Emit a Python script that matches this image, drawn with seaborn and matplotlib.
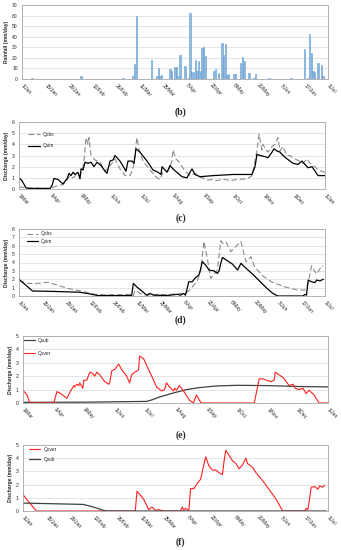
import numpy as np
import pandas as pd
import matplotlib
matplotlib.use('Agg')
import matplotlib.pyplot as plt
import seaborn as sns

# ---------------- data ----------------
# (b) daily rainfall, day number counted from 1 Jan 2016
rain_day = [6, 35, 60, 66, 67, 68, 77, 80, 81, 82, 83, 88, 89, 91, 92, 93, 94, 97, 99,
            100, 101, 102, 103, 104, 105, 106, 107, 108, 109, 114, 115, 117, 119, 120,
            121, 122, 123, 126, 127, 130, 131, 132, 135, 138, 139, 147, 160, 168, 170,
            171, 172, 173, 174, 176, 178, 179]
rain_mm = [1, 2.5, 1, 3, 14, 60, 18, 3, 10.5, 3, 3.5, 9.5, 7.5, 11, 11.5, 3, 23, 12.5, 1,
           62.5, 7, 7, 18, 7.5, 17, 7.5, 29.5, 30.5, 22, 8, 9, 5.5, 34, 23,
           33, 3.5, 4.5, 4.5, 4.5, 15, 20.5, 17, 5.5, 1, 5, 0.5, 1, 28, 1,
           43, 25, 7.5, 7, 15, 13, 3]

# (c) calibration, day number counted from 1 Mar 2015
c_obs_day = [0, 8, 31, 34, 39, 44, 48, 51, 54, 58, 61, 64, 65, 67, 69, 70, 72, 76, 81, 86,
             89, 93, 96, 101, 106, 111, 114, 116, 117, 118, 120, 124, 131, 138, 141, 144,
             149, 153, 154, 157, 161, 166, 171, 176, 181, 188, 194, 198, 204, 211, 218,
             228, 233, 236, 238, 240, 243, 244, 247, 249, 253, 256, 259, 261, 264, 268,
             271, 274, 278, 281, 284, 288, 291, 296, 299, 306]
c_obs = [0.2, 0.1, 0.05, 0.15, 0.3, 0.4, 0.8, 1.2, 1.0, 1.3, 1.2, 2.0, 2.5, 4.6, 4.0, 4.6,
         3.0, 2.6, 2.4, 1.6, 1.9, 2.3, 2.7, 1.8, 1.2, 1.2, 1.8, 3.0, 4.0, 4.6, 3.5, 2.5,
         1.7, 1.0, 0.85, 1.5, 1.6, 2.5, 3.5, 2.7, 2.3, 1.6, 1.2, 1.4, 1.1, 0.8, 0.85,
         0.75, 0.9, 0.75, 0.85, 0.9, 1.2, 2.5, 3.5, 4.9, 3.5, 4.0, 3.5, 3.3, 3.8, 4.0,
         4.6, 3.4, 3.8, 3.0, 3.0, 2.8, 2.6, 2.5, 2.3, 2.7, 2.3, 2.0, 1.7, 1.5]
c_sim_day = [0, 3, 7, 10, 31, 33, 35, 39, 44, 46, 48, 50, 52, 54, 56, 59, 61, 62, 64, 66,
             69, 72, 75, 78, 82, 86, 88, 91, 94, 96, 101, 107, 109, 113, 115, 117, 121,
             128, 134, 139, 142, 143, 146, 148, 151, 154, 159, 163, 168, 171, 173, 176,
             181, 194, 214, 233, 236, 238, 241, 246, 249, 253, 255, 258, 261, 264, 268,
             271, 274, 279, 283, 286, 289, 293, 296, 299, 306]
c_sim = [1.0, 0.75, 0.1, 0.05, 0.05, 0.3, 0.95, 0.85, 0.45, 0.7, 0.9, 1.4, 1.2, 1.5, 1.3,
         1.5, 0.9, 1.8, 1.7, 2.4, 2.3, 2.4, 2.0, 2.4, 2.1, 1.6, 1.4, 2.5, 2.6, 3.0, 2.5,
         1.6, 2.5, 2.5, 2.3, 3.6, 3.3, 2.5, 1.7, 1.5, 1.3, 2.0, 1.7, 1.5, 2.1, 1.8, 1.4,
         1.1, 1.0, 1.5, 1.8, 1.3, 1.1, 1.2, 1.3, 1.3, 2.0, 3.1, 3.0, 2.9, 2.8, 3.3, 3.6,
         3.4, 3.3, 3.0, 2.7, 2.5, 2.3, 2.2, 2.5, 2.2, 1.9, 2.0, 1.6, 1.2, 1.2]

# (d) validation, day number counted from 1 Jan 2016
d_obs_day = [0, 5, 11, 17, 23, 29, 37, 45, 50, 58, 67, 68, 69, 72, 76, 82, 88, 96, 99,
             102, 106, 108, 110, 112, 114, 118, 120, 121, 123, 126, 129, 132, 135, 138,
             140, 145, 150, 158, 165, 170, 172, 174, 177, 180, 181]
d_obs = [1.85, 1.5, 1.5, 1.65, 1.3, 0.9, 0.6, 0.2, 0.15, 0.15, 0.2, 0.05, 0.7, 0.3, 0.1,
         0.2, 0.15, 0.3, 0.3, 0.8, 1.8, 3.0, 6.5, 4.5, 2.1, 3.1, 6.6, 6.3, 6.5, 5.3, 5.9,
         6.5, 4.1, 4.7, 3.5, 2.4, 1.7, 1.1, 0.75, 0.7, 1.5, 3.6, 2.6, 3.6, 3.6]
d_sim_day = [0, 8, 20, 36, 42, 47, 50, 67, 68, 70, 76, 78, 80, 88, 94, 96, 98, 99, 101,
             103, 105, 107, 108, 109, 111, 113, 116, 118, 119, 120, 121, 124, 127, 130,
             132, 134, 139, 143, 147, 151, 154, 169, 170, 171, 172, 174, 176, 177, 179, 181]
d_sim = [2.0, 0.6, 0.55, 0.45, 0.25, 0.05, 0.05, 0.05, 1.5, 1.1, 0.1, 0.3, 0.1, 0.05,
         0.2, 0.1, 0.3, 0.1, 1.7, 1.7, 2.2, 2.5, 3.2, 4.1, 3.7, 3.1, 3.0, 2.7, 3.0, 3.9,
         4.6, 4.2, 3.8, 3.1, 3.9, 3.5, 2.6, 1.8, 1.0, 0.3, 0.0, 0.0, 0.2, 0.1, 1.9, 1.7,
         1.6, 1.9, 1.8, 2.0]

# (e) flow components, day number counted from 1 Mar 2015
e_sub_day = [0, 60, 124, 130, 137, 151, 164, 177, 194, 214, 244, 277, 306]
e_sub = [0.05, 0.06, 0.12, 0.25, 0.45, 0.75, 1.0, 1.15, 1.27, 1.32, 1.3, 1.23, 1.2]
e_over_day = [0, 4, 7, 31, 32, 34, 37, 44, 47, 51, 52, 54, 56, 57, 60, 61, 64, 67, 70,
              72, 74, 77, 82, 86, 87, 89, 92, 96, 99, 104, 107, 109, 112, 115, 116, 117,
              121, 126, 131, 134, 139, 142, 144, 147, 151, 152, 154, 157, 162, 167, 171,
              174, 177, 179, 232, 237, 241, 244, 249, 252, 253, 257, 261, 264, 267, 271,
              273, 277, 281, 284, 287, 292, 297, 306]
e_over = [0.95, 0.6, 0.0, 0.0, 0.3, 0.85, 0.75, 0.35, 0.8, 1.3, 1.2, 1.4, 1.3, 1.5, 1.1,
          1.7, 1.7, 2.3, 2.2, 2.0, 2.3, 2.1, 1.6, 1.4, 1.5, 2.4, 2.5, 2.9, 2.5, 2.0, 1.5,
          2.1, 2.3, 2.4, 2.5, 3.5, 3.3, 2.5, 1.7, 1.2, 0.9, 1.0, 1.5, 1.2, 0.9, 1.1, 0.95,
          1.3, 0.8, 0.2, 0.0, 0.6, 0.2, 0.0, 0.0, 1.8, 1.8, 1.7, 1.6, 1.7, 2.3, 2.1, 1.9,
          1.6, 1.3, 1.4, 1.1, 1.0, 1.1, 0.7, 0.95, 0.6, 0.0, 0.0]

# (f) flow components, day number counted from 1 Jan 2016
f_over_day = [0, 3, 8, 67, 68, 72, 75, 77, 79, 81, 84, 94, 95, 96, 97, 99, 100, 102, 104,
              106, 107, 109, 111, 113, 115, 117, 119, 120, 121, 123, 125, 127, 129, 131,
              133, 134, 137, 139, 143, 147, 151, 155, 168, 169, 170, 172, 174, 176, 177,
              179, 180]
f_over = [1.25, 0.75, 0.0, 0.0, 1.5, 0.9, 0.1, 0.3, 0.05, 0.1, 0.0, 0.0, 0.3, 0.05, 0.2,
          0.05, 1.7, 1.7, 2.1, 2.4, 3.0, 4.1, 3.4, 3.1, 3.1, 2.9, 2.75, 3.8, 4.6, 4.2,
          3.8, 3.6, 3.2, 3.5, 4.0, 3.6, 3.3, 2.9, 2.3, 1.6, 0.9, 0.0, 0.0, 0.2, 0.1, 1.8,
          1.85, 1.65, 1.9, 1.8, 1.95]
f_sub_day = [0, 36, 42, 48, 50, 181]
f_sub = [0.6, 0.5, 0.3, 0.05, 0.0, 0.0]

# ---------------- styling ----------------
sns.set_style('white')
plt.rcParams['font.family'] = ['Liberation Sans', 'DejaVu Sans']

GRID = '#d9d9d9'
FRAME = '#a6a6a6'
TICK_FS = 3.6


def style_axes(ax, start, monthly, ymax, ylabel):
    start = pd.Timestamp(start)
    if monthly:
        tdates = pd.date_range(start, periods=11, freq='MS')
    else:
        tdates = pd.date_range(start, periods=14, freq='14D')
    tpos = (tdates - start).days
    ax.set_xlim(tpos[0], tpos[-1])
    ax.set_xticks(tpos)
    ax.set_xticklabels(['%d/%s' % (d.day, d.strftime('%b')) for d in tdates],
                       rotation=-45, ha='left', va='center', rotation_mode='anchor')
    ax.set_ylim(0, ymax)
    ax.set_yticks(np.arange(0, ymax + 0.01, ymax / (7 if ymax == 70 else ymax)))
    ax.yaxis.grid(True, color=GRID, lw=0.5)
    ax.set_axisbelow(True)
    for s in ax.spines.values():
        s.set_color(FRAME)
        s.set_linewidth(0.6)
    ax.tick_params(axis='both', labelsize=TICK_FS, length=1.5, width=0.4,
                   color=FRAME, pad=1.5, direction='out')
    ax.tick_params(axis='x', pad=2.5)
    ax.set_xlabel('')
    ax.set_ylabel(ylabel, fontsize=3.6, fontweight='bold', labelpad=2)


def panel_label(y, text):
    fig.text(0.53, y, text, ha='center', va='center', fontsize=7,
             fontweight='bold', family='Liberation Serif')


def legend(ax, order, x, y, spacing):
    h, l = ax.get_legend_handles_labels()
    d = dict(zip(l, h))
    ax.legend([d[k] for k in order], order, loc='upper left', bbox_to_anchor=(x, y),
              frameon=False, fontsize=3.4, handlelength=2.4, handletextpad=0.6,
              labelspacing=spacing, borderpad=0, borderaxespad=0)


fig = plt.figure(figsize=(3.41, 5.5), dpi=100)

# (b) rainfall
ax_b = fig.add_axes([22 / 341, 1 - 79 / 550, 306 / 341, 74 / 550])
sns.barplot(x=rain_day, y=rain_mm, native_scale=True, width=0.8, color='#8db8e2',
            edgecolor='#5b9bd5', linewidth=0.4, ax=ax_b)
style_axes(ax_b, '2016-01-01', False, 70, 'Rainfall (mm/day)')
panel_label(1 - 112 / 550, '(b)')

dash = (0, (5, 2.5))

# (c) calibration
ax_c = fig.add_axes([19 / 341, 1 - 189 / 550, 306 / 341, 67 / 550])
sns.lineplot(x=c_obs_day, y=c_obs, color='#8c8c8c', lw=0.8, linestyle=dash,
             label='Qobs', estimator=None, ax=ax_c)
sns.lineplot(x=c_sim_day, y=c_sim, color='black', lw=0.9, label='Qsim',
             estimator=None, ax=ax_c)
style_axes(ax_c, '2015-03-01', True, 6, 'Discharge (mm/day)')
legend(ax_c, ['Qobs', 'Qsim'], 0.03, 0.85, 1.3)
panel_label(1 - 218 / 550, '(c)')

# (d) validation
ax_d = fig.add_axes([19 / 341, 1 - 296 / 550, 306 / 341, 67 / 550])
sns.lineplot(x=d_obs_day, y=d_obs, color='#8c8c8c', lw=0.8, linestyle=dash,
             label='Qobs', estimator=None, ax=ax_d)
sns.lineplot(x=d_sim_day, y=d_sim, color='black', lw=0.9, label='Qsim',
             estimator=None, ax=ax_d)
style_axes(ax_d, '2016-01-01', False, 8, 'Discharge (mm/day)')
legend(ax_d, ['Qobs', 'Qsim'], 0.026, 0.965, 0.5)
panel_label(1 - 320 / 550, '(d)')

# (e) components, calibration period
ax_e = fig.add_axes([23 / 341, 1 - 403 / 550, 305 / 341, 67 / 550])
sns.lineplot(x=e_sub_day, y=e_sub, color='#404040', lw=0.9, label='Qsub',
             estimator=None, ax=ax_e)
sns.lineplot(x=e_over_day, y=e_over, color='#ff2020', lw=0.8, label='Qover',
             estimator=None, ax=ax_e)
style_axes(ax_e, '2015-03-01', True, 5, 'Discharge (mm/day)')
legend(ax_e, ['Qsub', 'Qover'], 0.003, 0.97, 1.7)
panel_label(1 - 435 / 550, '(e)')

# (f) components, validation period
ax_f = fig.add_axes([23 / 341, 1 - 511 / 550, 305 / 341, 66 / 550])
sns.lineplot(x=f_over_day, y=f_over, color='#ff2020', lw=0.8, label='Qover',
             estimator=None, ax=ax_f)
sns.lineplot(x=f_sub_day, y=f_sub, color='#404040', lw=0.9, label='Qsub',
             estimator=None, ax=ax_f)
style_axes(ax_f, '2016-01-01', False, 5, 'Discharge (mm/day)')
legend(ax_f, ['Qover', 'Qsub'], 0.02, 0.975, 1.05)
panel_label(1 - 542 / 550, '(f)')

fig.savefig('out.png', dpi=100)
